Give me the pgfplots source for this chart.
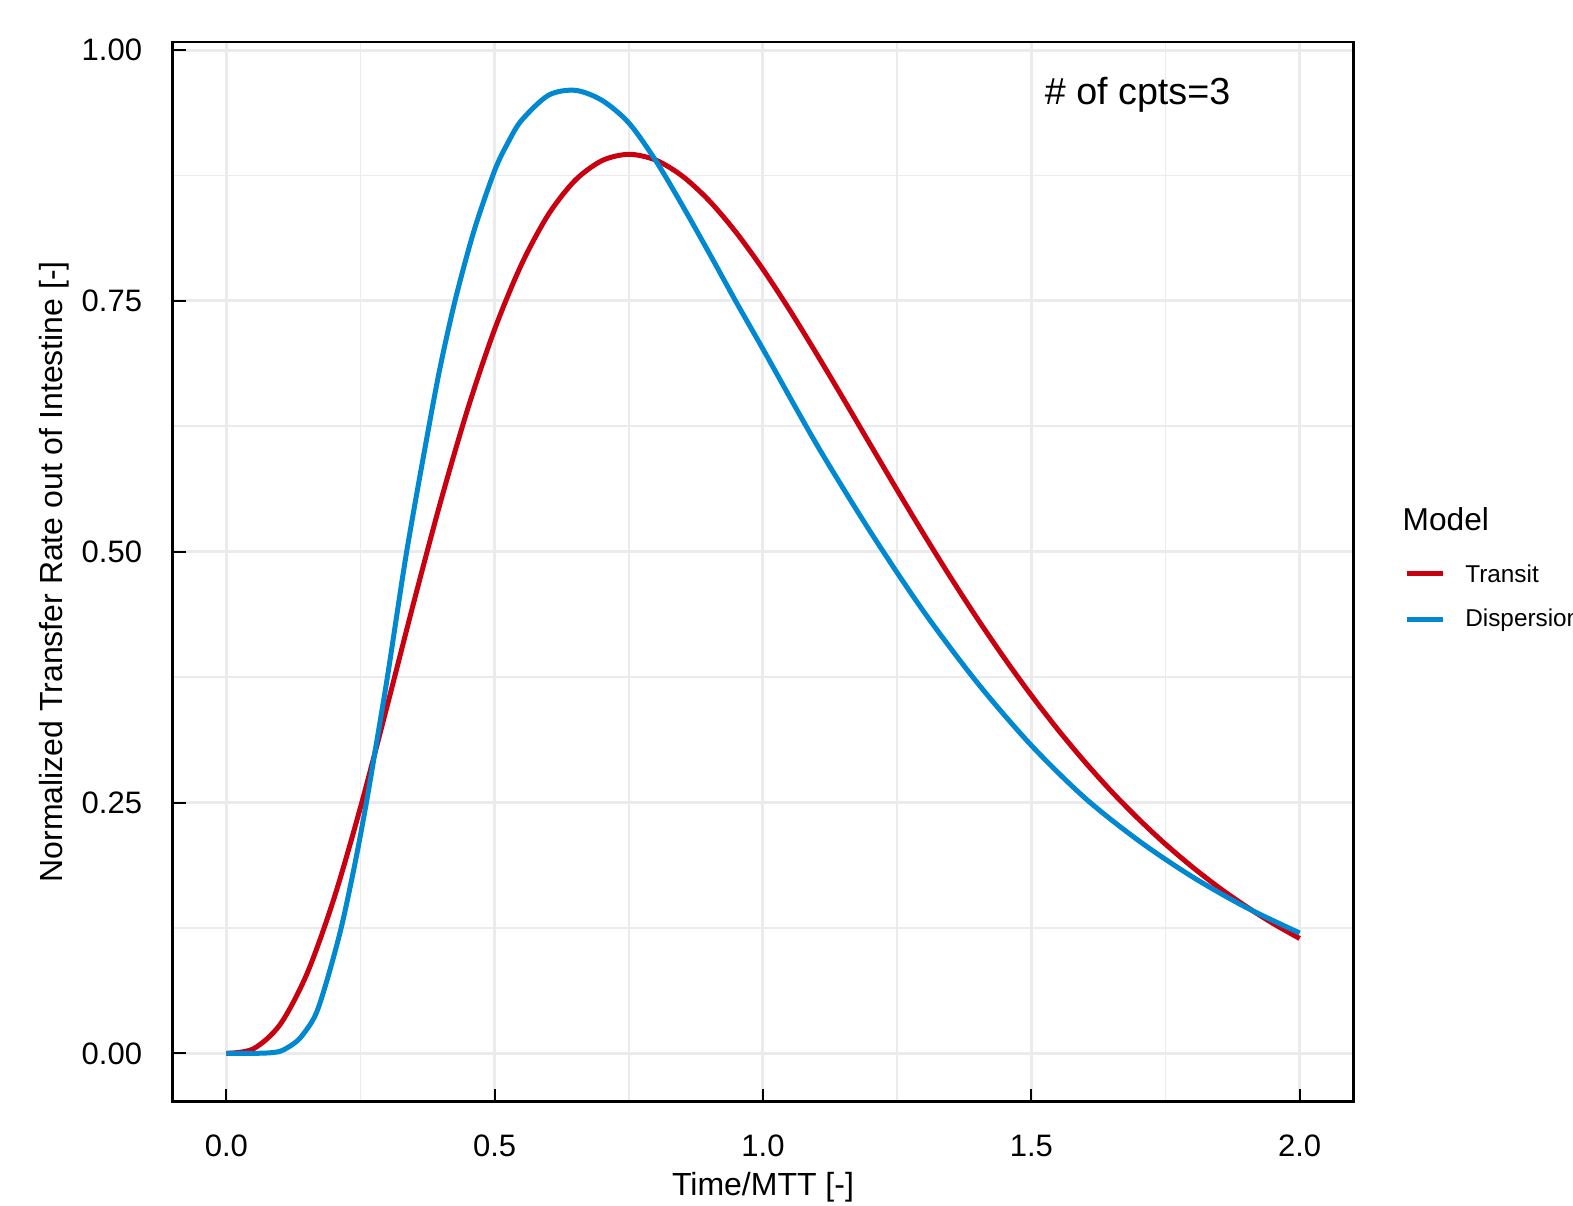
\documentclass[border=0pt]{standalone}
\usepackage{fontspec}
\setmainfont{Liberation Sans}
\usepackage{pgfplots}
\usepackage{pgfplotstable}
\pgfplotsset{compat=1.18}

\definecolor{transitred}{RGB}{200,0,16}
\definecolor{dispblue}{RGB}{0,136,209}
\definecolor{gridgrey}{RGB}{235,235,235}

% Transit model, # of cpts = 3
\pgfplotstableread{
t     y
0.00  0.0000
0.05  0.0044
0.10  0.0286
0.15  0.0790
0.20  0.1534
0.25  0.2453
0.30  0.3470
0.35  0.4511
0.40  0.5513
0.45  0.6427
0.50  0.7218
0.55  0.7865
0.60  0.8361
0.65  0.8703
0.70  0.8899
0.75  0.8962
0.80  0.8905
0.85  0.8744
0.90  0.8498
0.95  0.8183
1.00  0.7815
1.05  0.7407
1.10  0.6972
1.15  0.6523
1.20  0.6068
1.25  0.5615
1.30  0.5171
1.35  0.4741
1.40  0.4329
1.45  0.3938
1.50  0.3569
1.55  0.3224
1.60  0.2904
1.65  0.2607
1.70  0.2335
1.75  0.2085
1.80  0.1858
1.85  0.1651
1.90  0.1465
1.95  0.1296
2.00  0.1145
}\transit

% Dispersion model
\pgfplotstableread{
t      y
0.000  0.000
0.050  0.000
0.080  0.0005
0.100  0.002
0.115  0.006
0.137  0.015
0.165  0.037
0.186  0.070
0.214  0.125
0.240  0.190
0.261  0.250
0.280  0.310
0.301  0.378
0.336  0.500
0.3775 0.625
0.400  0.688
0.427  0.752
0.4615 0.820
0.500  0.880
0.525  0.908
0.550  0.930
0.600  0.955
0.650  0.960
0.700  0.950
0.750  0.9275
0.800  0.890
0.850  0.845
0.900  0.7975
0.950  0.749
1.000  0.702
1.100  0.607
1.200  0.520
1.300  0.440
1.400  0.369
1.500  0.307
1.600  0.2545
1.700  0.212
1.800  0.176
1.900  0.1455
2.000  0.120
}\dispersion

\begin{document}
\begin{tikzpicture}
\begin{axis}[
    at={(0,0)}, anchor=south west,
    scale only axis,
    width=354.2pt, height=317.8pt,
    xmin=-0.1, xmax=2.1,
    ymin=-0.048, ymax=1.008,
    xtick={0,0.5,1,1.5,2},
    ytick={0,0.25,0.5,0.75,1},
    minor xtick={0.25,0.75,1.25,1.75},
    minor ytick={0.125,0.375,0.625,0.875},
    xticklabel style={/pgf/number format/fixed, /pgf/number format/fixed zerofill,
        /pgf/number format/precision=1, inner sep=0pt, anchor=north, yshift=-9.8pt},
    yticklabel style={/pgf/number format/fixed, /pgf/number format/fixed zerofill,
        /pgf/number format/precision=2, inner sep=0pt, anchor=east, xshift=-9.0pt},
    /pgf/number format/assume math mode=true,
    ticklabel style={font=\fontsize{9.3}{11}\selectfont},
    xtick pos=lower, ytick pos=left,
    tick align=inside,
    major tick length=3.9pt, minor tick length=0pt,
    every tick/.style={black, line width=0.6pt},
    axis line style={black, line width=0.75pt},
    grid=both,
    major grid style={gridgrey, line width=0.9pt},
    minor grid style={gridgrey, line width=0.55pt},
    xlabel={Time/MTT [-]},
    ylabel={Normalized Transfer Rate out of Intestine [-]},
    label style={font=\fontsize{9.6}{11}\selectfont},
    xlabel style={at={(axis description cs:0.5,0)}, anchor=center, yshift=-25.8pt},
    ylabel style={at={(axis description cs:0,0.5)}, anchor=center, yshift=35.4pt},
]
\addplot[transitred, line width=1.5pt, smooth] table[x=t, y=y] {\transit};
\addplot[dispblue, line width=1.5pt, smooth] table[x=t, y=y] {\dispersion};
\node[font=\fontsize{11.3}{13}\selectfont, anchor=center] at (axis cs:1.698,0.956) {\# of cpts=3};
\end{axis}

% legend (Model)
\node[anchor=west, inner sep=0pt, font=\fontsize{9.5}{11}\selectfont] at (368.8pt,174.65pt) {Model};
\draw[transitred, line width=1.5pt] (370.2pt,158.25pt) -- (381pt,158.25pt);
\draw[dispblue, line width=1.5pt] (370.2pt,144.45pt) -- (381pt,144.45pt);
\node[anchor=west, inner sep=0pt, font=\fontsize{7.3}{9}\selectfont] at (387.6pt,158.25pt) {Transit};
\node[anchor=west, inner sep=0pt, font=\fontsize{7.3}{9}\selectfont] at (387.6pt,144.45pt) {Dispersion};

\pgfresetboundingbox
\useasboundingbox (-51.8pt,-31.35pt) rectangle (420.1pt,330.45pt);
\end{tikzpicture}
\end{document}
